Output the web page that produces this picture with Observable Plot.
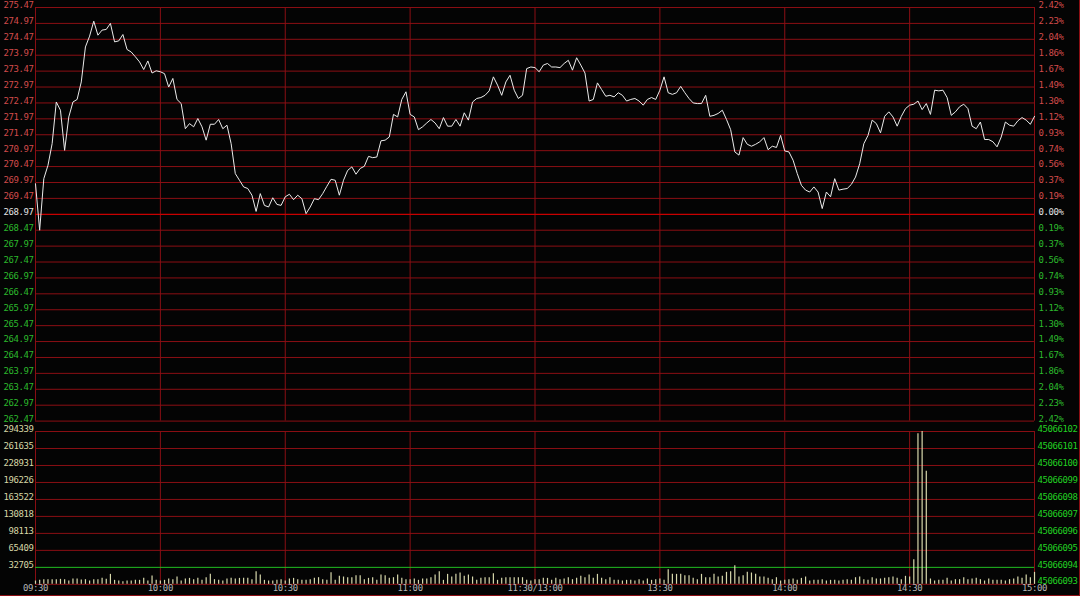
<!DOCTYPE html>
<html>
<head>
<meta charset="utf-8">
<script src="https://cdn.jsdelivr.net/npm/d3@7"></script>
<script src="https://cdn.jsdelivr.net/npm/@observablehq/plot@0.6"></script>
<style>
  html, body { margin: 0; padding: 0; background: #040404; }
  #wrap { position: relative; width: 1080px; height: 596px; background: #040404; overflow: hidden;
          box-sizing: border-box; border-right: 1px solid #8c0f14; border-bottom: 1px solid #8c0f14; }
  #price, #volume { position: absolute; left: 0; }
  #price { top: 0; }
  #volume { top: 420px; }
</style>
</head>
<body>
<div id="wrap">
  <div id="price"></div>
  <div id="volume"></div>
</div>
<script>
// ---- data ----
const prevClose = 268.97;

// one price per trading minute (09:30 .. 11:30, 13:00 .. 15:00 → 241 points)
const prices = [
  269.93, 268.47, 270.09, 270.51, 271.19, 272.50, 272.24, 270.98, 272.03, 272.50,
  272.58, 273.13, 274.23, 274.57, 275.04, 274.60, 274.76, 274.78, 274.97, 274.39,
  274.42, 274.62, 274.15, 274.07, 273.92, 273.76, 273.52, 273.79, 273.41, 273.48,
  273.45, 273.39, 272.97, 273.24, 272.58, 272.45, 271.66, 271.82, 271.72, 271.98,
  271.72, 271.30, 271.80, 271.80, 271.95, 271.66, 271.77, 271.19, 270.25, 270.04,
  269.83, 269.78, 269.57, 269.06, 269.62, 269.25, 269.20, 269.49, 269.28, 269.25,
  269.52, 269.60, 269.43, 269.57, 269.46, 268.99, 269.20, 269.46, 269.43, 269.62,
  269.85, 270.07, 270.04, 269.57, 270.04, 270.35, 270.46, 270.23, 270.41, 270.48,
  270.79, 270.75, 270.77, 271.28, 271.30, 271.40, 272.11, 272.03, 272.58, 272.82,
  272.11, 272.03, 271.63, 271.72, 271.84, 271.95, 271.84, 271.66, 272.01, 271.74,
  271.74, 271.95, 271.74, 272.16, 271.93, 272.50, 272.61, 272.64, 272.71, 272.85,
  273.29, 273.03, 272.71, 273.13, 273.34, 272.87, 272.61, 272.71, 273.55, 273.60,
  273.58, 273.45, 273.66, 273.71, 273.60, 273.60, 273.58, 273.71, 273.81, 273.50,
  273.89, 273.66, 273.41, 272.53, 272.58, 273.10, 272.89, 272.68, 272.71, 272.66,
  272.79, 272.71, 272.53, 272.58, 272.61, 272.53, 272.40, 272.58, 272.64, 272.58,
  272.87, 273.29, 272.79, 272.74, 272.79, 272.99, 272.79, 272.61, 272.47, 272.45,
  272.45, 272.71, 272.05, 272.08, 272.14, 272.24, 271.95, 271.63, 270.93, 270.83,
  271.38, 271.17, 271.11, 271.17, 271.25, 271.38, 271.00, 271.11, 271.07, 271.45,
  270.96, 270.93, 270.67, 270.25, 269.88, 269.73, 269.67, 269.83, 269.67, 269.15,
  269.67, 269.52, 270.09, 269.73, 269.76, 269.78, 269.91, 270.14, 270.56, 271.19,
  271.45, 271.93, 271.82, 271.53, 272.05, 272.19, 272.03, 271.74, 272.05, 272.29,
  272.40, 272.43, 272.53, 272.26, 272.45, 272.11, 272.87, 272.85, 272.87, 272.64,
  272.08, 272.19, 272.35, 272.43, 272.29, 271.74, 271.66, 271.87, 271.32, 271.32,
  271.25, 271.09, 271.40, 271.87, 271.77, 271.74, 271.91, 272.01, 271.93, 271.80,
  272.05
];

// one volume per trading minute
const volumes = [
  6400, 7700, 9000, 9000, 9000, 9000, 9600, 9000, 6400, 10300,
  10300, 8300, 9000, 6400, 9000, 9000, 11500, 9600, 19200, 7700,
  6400, 5100, 6400, 6400, 7700, 7700, 11500, 6400, 16000, 7700,
  6400, 7700, 10300, 9000, 14100, 6400, 10300, 11500, 9000, 11500,
  7700, 12800, 19200, 9000, 7700, 6400, 10300, 11500, 10300, 11500,
  11500, 11500, 9000, 24400, 17900, 7700, 6400, 6400, 7700, 9000,
  6400, 10300, 11500, 9000, 7700, 7700, 9000, 11500, 12800, 9000,
  7700, 22400, 7700, 15400, 14100, 12800, 12800, 16700, 16700, 9000,
  11500, 12800, 7700, 17900, 16700, 11500, 12800, 17900, 11500, 9000,
  9000, 10300, 7700, 10300, 10300, 12800, 17900, 24400, 7700, 19200,
  14100, 19200, 21800, 15400, 17900, 14100, 7700, 11500, 12800, 12800,
  20500, 7700, 11500, 12800, 12800, 12800, 12800, 12800, 7700, 6400,
  9000, 9000, 11500, 11500, 7700, 11500, 9000, 10300, 12800, 9000,
  11500, 15400, 12800, 17900, 11500, 19200, 11500, 9000, 12800, 7700,
  7700, 6400, 7700, 7700, 6400, 9000, 6400, 10300, 7700, 9000,
  10300, 7700, 28200, 19200, 19200, 19200, 16700, 16700, 11500, 9000,
  19200, 12800, 12800, 19200, 14100, 15400, 23100, 24400, 35900, 14100,
  16700, 23100, 21800, 19200, 14100, 14100, 11500, 9000, 12800, 6400,
  7700, 9000, 10300, 7700, 11500, 14100, 6400, 7700, 7700, 9000,
  6400, 7700, 7700, 6400, 7700, 9000, 7700, 12800, 14100, 9000,
  7700, 12800, 10300, 10300, 11500, 12800, 14100, 11500, 9000, 15400,
  14100, 47400, 290000, 294339, 218000, 10300, 6400, 7700, 7700, 11500,
  6400, 9000, 9000, 12800, 9000, 10300, 11500, 9000, 6400, 10300,
  7700, 7700, 7700, 6400, 9000, 10300, 14100, 11500, 17900, 12800,
  23100
];

const priceTicks = [275.47, 274.97, 274.47, 273.97, 273.47, 272.97, 272.47, 271.97, 271.47, 270.97,
  270.47, 269.97, 269.47, 268.97, 268.47, 267.97, 267.47, 266.97, 266.47, 265.97,
  265.47, 264.97, 264.47, 263.97, 263.47, 262.97, 262.47];
const pctLabels = ["2.42%", "2.23%", "2.04%", "1.86%", "1.67%", "1.49%", "1.30%", "1.12%", "0.93%", "0.74%",
  "0.56%", "0.37%", "0.19%", "0.00%", "0.19%", "0.37%", "0.56%", "0.74%", "0.93%", "1.12%",
  "1.30%", "1.49%", "1.67%", "1.86%", "2.04%", "2.23%", "2.42%"];

const volTicks = [0, 32705, 65409, 98113, 130818, 163522, 196226, 228931, 261635, 294339];
const volRightLabels = ["45066093", "45066094", "45066095", "45066096", "45066097",
  "45066098", "45066099", "45066100", "45066101", "45066102"];

const timeTicks = [0, 30, 60, 90, 120, 150, 180, 210, 240];
const timeLabels = ["09:30", "10:00", "10:30", "11:00", "11:30/13:00", "13:30", "14:00", "14:30", "15:00"];

// ---- styles ----
const GRID = "#8c0f14";
const RED = "#d24b4b";
const GREEN = "#2cb82c";
const WHITE = "#e2e2e2";
const font = {fontFamily: "'DejaVu Sans Mono', 'Liberation Mono', monospace", fontSize: "9px", letterSpacing: "-0.4px"};
const labelColor = d => d > prevClose + 1e-9 ? RED : d < prevClose - 1e-9 ? GREEN : WHITE;

const priceData = prices.map((p, i) => ({m: i, p}));
const volData = volumes.map((v, i) => ({m: i, v}));
const pctData = priceTicks.map((t, i) => ({t, label: pctLabels[i]}));

// ---- price panel ----
const pricePlot = Plot.plot({
  width: 1080, height: 425,
  marginLeft: 35, marginRight: 45, marginTop: 7, marginBottom: 4,
  style: {background: "transparent", color: WHITE, ...font},
  x: {domain: [0, 240], axis: null},
  y: {domain: [262.47, 275.47], axis: null},
  color: {type: "identity"},
  marks: [
    Plot.ruleY(priceTicks.filter(t => t !== prevClose), {stroke: GRID, strokeWidth: 1}),
    Plot.ruleX(timeTicks, {stroke: GRID, strokeWidth: 1}),
    Plot.ruleY([prevClose], {stroke: "#c80000", strokeWidth: 1.3}),
    Plot.line(priceData, {x: "m", y: "p", stroke: "#ececec", strokeWidth: 1}),
    Plot.text(priceTicks, {y: d => d, frameAnchor: "left", textAnchor: "end", dx: -2, dy: -2,
      text: d => d.toFixed(2), fill: labelColor}),
    Plot.text(pctData, {y: "t", frameAnchor: "right", textAnchor: "start", dx: 4, dy: -2,
      text: "label", fill: d => labelColor(d.t)})
  ]
});
document.getElementById("price").appendChild(pricePlot);

// ---- volume panel ----
const volRight = volTicks.map((t, i) => ({t, label: volRightLabels[i]}));
const volumePlot = Plot.plot({
  width: 1080, height: 176,
  marginLeft: 35, marginRight: 45, marginTop: 11, marginBottom: 12,
  style: {background: "transparent", color: WHITE, ...font},
  x: {domain: [0, 240], axis: null},
  y: {domain: [0, 294339], axis: null},
  marks: [
    Plot.ruleY(volTicks.filter(t => t !== 32705), {stroke: GRID, strokeWidth: 1}),
    Plot.ruleX(timeTicks, {stroke: GRID, strokeWidth: 1}),
    Plot.ruleY([32705], {stroke: "#22c022", strokeWidth: 1}),
    Plot.ruleX(volData, {x: "m", y1: 0, y2: "v", stroke: "#d8d8ac", strokeWidth: 1.2}),
    Plot.text(volTicks.filter(t => t > 0), {y: d => d, frameAnchor: "left", textAnchor: "end", dx: -2, dy: -2,
      text: d => String(d), fill: "#d6d6a4"}),
    Plot.text(volRight, {y: "t", frameAnchor: "right", textAnchor: "start", dx: 3, dy: -2,
      text: "label", fill: "#22d022"}),
    Plot.text(timeTicks, {x: d => d, frameAnchor: "bottom", dy: 7,
      text: (d, i) => timeLabels[i], fill: "#b4b4b4"})
  ]
});
document.getElementById("volume").appendChild(volumePlot);

// nudge the bottom-right volume label up a little so it clears the "15:00" time label
volumePlot.querySelectorAll("text").forEach(t => {
  if (t.textContent === "45066093") t.setAttribute("dy", "-1.5");
});
</script>
</body>
</html>
